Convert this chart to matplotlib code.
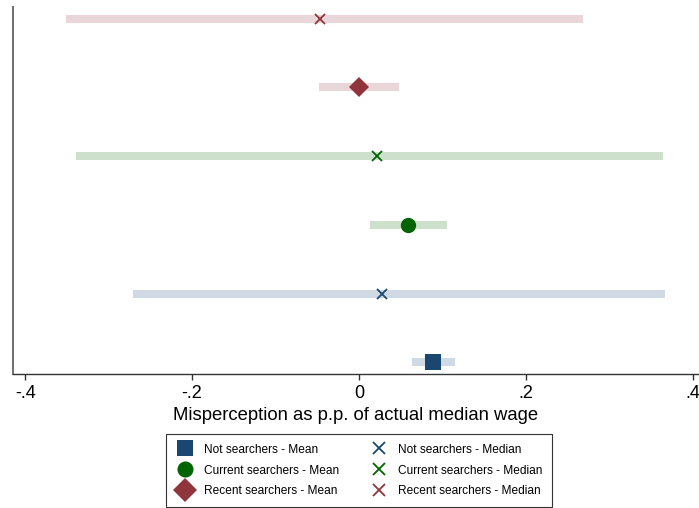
import matplotlib
matplotlib.use("Agg")
import matplotlib.pyplot as plt
from matplotlib.lines import Line2D

plt.rcParams['font.family'] = ['Liberation Sans', 'DejaVu Sans']

# Data (top to bottom rows)
groups = ["Recent searchers", "Current searchers", "Not searchers"]
mean_vals = [0.000, 0.059, 0.089]
mean_lo = [-0.048, 0.013, 0.064]
mean_hi = [0.048, 0.105, 0.115]
median_vals = [-0.047, 0.022, 0.028]
median_lo = [-0.351, -0.339, -0.271]
median_hi = [0.269, 0.364, 0.367]

marker_colors = ["#90353b", "#006400", "#1a476f"]
ci_colors = ["#e8d6d8", "#cce0cc", "#d1dae4"]
mean_markers = ["D", "o", "s"]
mean_sizes = [10.5, 11, 11]

xticks = [-0.4, -0.2, 0, 0.2, 0.4]
xticklabels = ["-.4", "-.2", "0", ".2", ".4"]

fig = plt.figure(figsize=(6.99, 5.08), dpi=100)
ax = fig.add_axes([13/699, 1-373.7/508, 1-13/699, (373.7-7)/508])

for i in range(3):
    y_med = 6 - 2*i
    y_mean = 5 - 2*i
    ax.plot([median_lo[i], median_hi[i]], [y_med, y_med], color=ci_colors[i],
            lw=5.8, solid_capstyle='butt', zorder=1)
    ax.plot([median_vals[i]], [y_med], marker='x', color=marker_colors[i],
            ms=7.5, mew=1.3, ls='none', zorder=3)
    ax.plot([mean_lo[i], mean_hi[i]], [y_mean, y_mean], color=ci_colors[i],
            lw=5.8, solid_capstyle='butt', zorder=1)
    ax.plot([mean_vals[i]], [y_mean], marker=mean_markers[i], color=marker_colors[i],
            ms=mean_sizes[i], mew=0, ls='none', zorder=3)

ax.set_xlim((13-359)/834.5, (699-359)/834.5)
ax.set_ylim(1-0.166, 6+0.17)
ax.set_xticks(xticks)
ax.set_xticklabels(xticklabels, fontsize=13)
ax.set_yticks([])
for s in ['top', 'right']:
    ax.spines[s].set_visible(False)
ax.spines['left'].set_color('#6e6e6e')
ax.spines['left'].set_linewidth(1.4)
ax.spines['bottom'].set_color('#333333')
ax.spines['bottom'].set_linewidth(1.0)
ax.tick_params(axis='x', direction='out', length=4.5, width=1, color='#333333', pad=3.5)
ax.set_xlabel("Misperception as p.p. of actual median wage", fontsize=13.3, labelpad=3.5)

handles = []
labels = []
order = [2, 1, 0]
for i in order:
    handles.append(Line2D([], [], marker=mean_markers[i], color=marker_colors[i], ls='none',
                          ms=mean_sizes[i] * 1.2 if mean_markers[i] == 'D' else mean_sizes[i] * 1.05, mew=0))
    labels.append(f"{groups[i]} - Mean")
for i in order:
    handles.append(Line2D([], [], marker='x', color=marker_colors[i], ls='none', ms=8, mew=1.3))
    labels.append(f"{groups[i]} - Median")

leg = fig.legend(handles, labels, loc='center', bbox_to_anchor=(359/699, 1-470.5/508),
                 ncol=2, fontsize=8.6, frameon=True, fancybox=False, edgecolor='black',
                 handlelength=1.5, handletextpad=0.85, columnspacing=2.6, labelspacing=0.75,
                 borderpad=0.8, borderaxespad=0)
leg.get_frame().set_linewidth(0.8)

fig.savefig("out.png", dpi=100)
